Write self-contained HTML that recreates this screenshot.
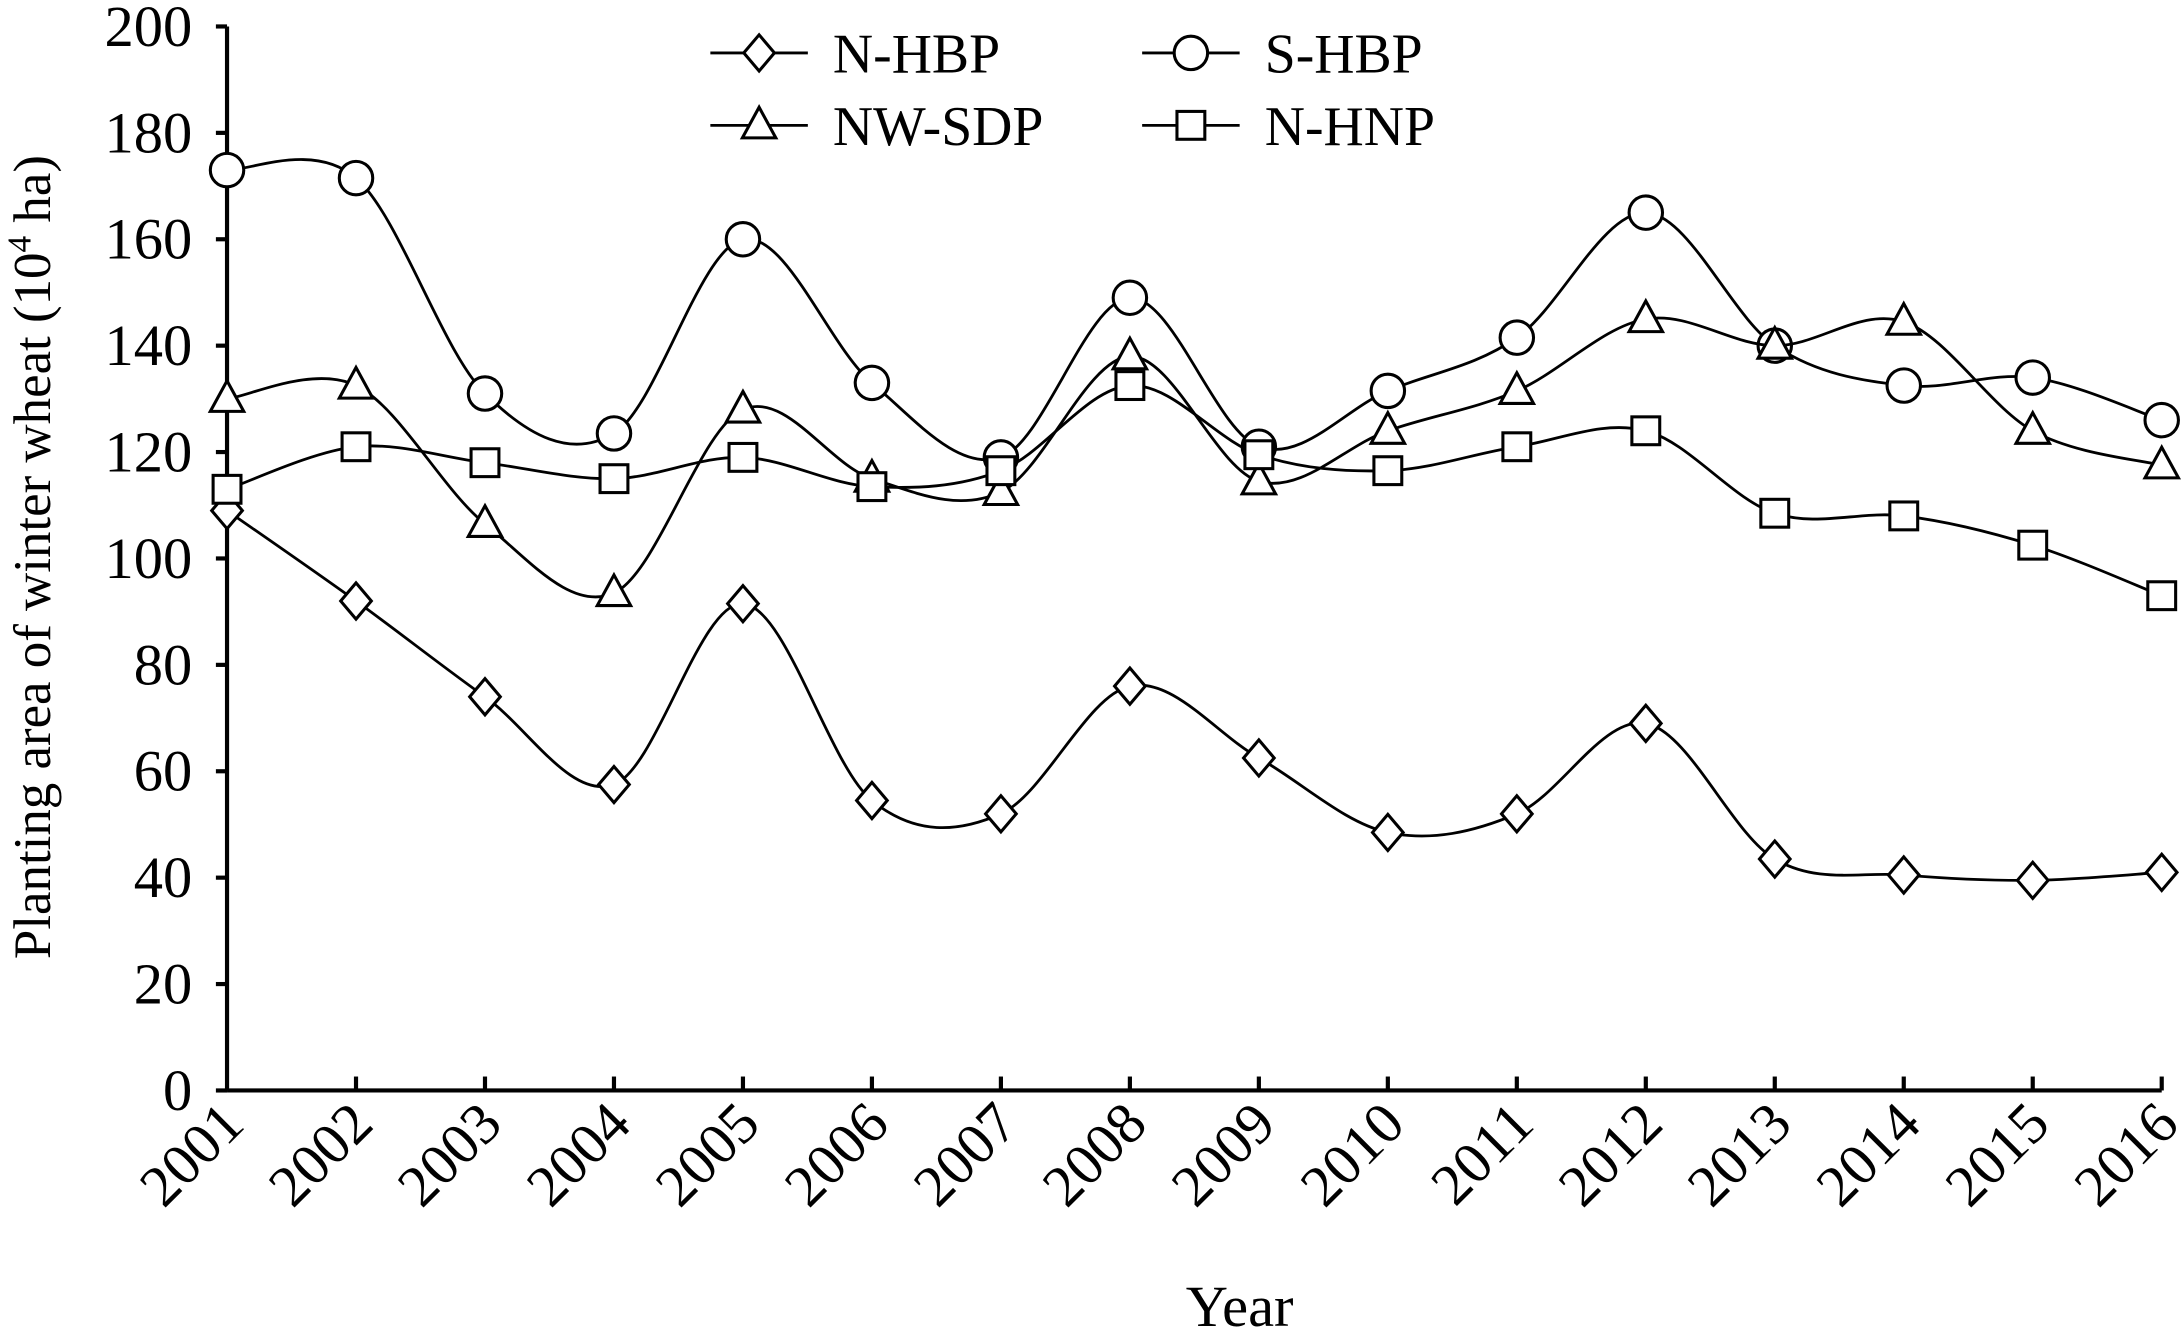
<!DOCTYPE html>
<html><head><meta charset="utf-8"><style>
html,body{margin:0;padding:0;background:#fff;}
svg{display:block;font-family:"Liberation Serif",serif;}
</style></head><body>
<svg id="chart" width="2184" height="1330" viewBox="0 0 1568 955" preserveAspectRatio="none" xmlns="http://www.w3.org/2000/svg">
<g id="axes"></g>
<g id="series"></g>
<g id="legend"></g>
<text x="890" y="952" font-size="42" text-anchor="middle">Year</text>
<text transform="translate(36,400) rotate(-90)" font-size="38" text-anchor="middle">Planting area of winter wheat (10<tspan font-size="24" dy="-14">4</tspan><tspan dy="14"> ha)</tspan></text>
</svg>
<script>
const years = ["2001","2002","2003","2004","2005","2006","2007","2008","2009","2010","2011","2012","2013","2014","2015","2016"];
const yTicks = [0,20,40,60,80,100,120,140,160,180,200];
const nHBP = [109,92,74,57.5,91.5,54.5,52,76,62.5,48.5,52,69,43.5,40.5,39.5,41];
const sHBP = [173,171.5,131,123.5,160,133,119,149,121,131.5,141.5,165,140,132.5,134,126];
const nwSDP = [130,132.5,106.5,93.5,128,115,112.5,138,114.5,124,131.5,145,140,144.5,124,117.5];
const nHNP = [113,121,118,115,119,113.5,116.5,132.5,119.5,116.5,121,124,108.5,108,102.5,93];

const NS="http://www.w3.org/2000/svg";
const X0=163,X1=1552,Y0=783,Y1=19;
const xs=i=>X0+(X1-X0)*i/(years.length-1);
const ys=v=>Y0-(Y0-Y1)*v/200;
function mk(t,a,p){const e=document.createElementNS(NS,t);for(const k in a)e.setAttribute(k,a[k]);p.appendChild(e);return e;}
const axes=document.getElementById('axes');
let e=mk('line',{x1:X0,y1:Y0,x2:X1,y2:Y0,stroke:'#000','stroke-width':3},axes);


e=mk('line',{x1:X0,y1:Y0,x2:X0,y2:Y1,stroke:'#000','stroke-width':3},axes);


yTicks.forEach(v=>{
  let t=mk('line',{x1:X0-8,y1:ys(v),x2:X0,y2:ys(v),stroke:'#000','stroke-width':3},axes);
  
  
  let l=mk('text',{x:138,y:ys(v)+14,'font-size':42,'text-anchor':'end'},axes);l.textContent=v;
  
  
});
years.forEach((y,i)=>{
  if(i>0){let t=mk('line',{x1:xs(i),y1:Y0,x2:xs(i),y2:Y0-10,stroke:'#000','stroke-width':3},axes);
  
  }
  let l=mk('text',{x:0,y:0,'font-size':42,'text-anchor':'end',transform:`translate(${xs(i)+14},${Y0+26}) rotate(-45)`},axes);l.textContent=y;
  
  
});
function smooth(pts){
  let d=`M${pts[0][0]},${pts[0][1]}`;
  for(let i=0;i<pts.length-1;i++){
    const p0=pts[i-1]||pts[i],p1=pts[i],p2=pts[i+1],p3=pts[i+2]||p2;
    const c1=[p1[0]+(p2[0]-p0[0])/6,p1[1]+(p2[1]-p0[1])/6];
    const c2=[p2[0]-(p3[0]-p1[0])/6,p2[1]-(p3[1]-p1[1])/6];
    d+=` C${c1[0]},${c1[1]} ${c2[0]},${c2[1]} ${p2[0]},${p2[1]}`;
  }
  return d;
}
function marker(type,x,y,p){
  const st={fill:'#fff',stroke:'#000','stroke-width':2.2};
  let m;
  if(type==='diamond')m=mk('polygon',Object.assign({points:`${x},${y-13} ${x+11},${y} ${x},${y+13} ${x-11},${y}`},st),p);
  else if(type==='circle')m=mk('circle',Object.assign({cx:x,cy:y,r:12},st),p);
  else if(type==='triangle')m=mk('polygon',Object.assign({points:`${x},${y-13} ${x+12},${y+9} ${x-12},${y+9}`},st),p);
  else m=mk('rect',Object.assign({x:x-10,y:y-10,width:20,height:20},st),p);
  return m;
}
const seriesG=document.getElementById('series');
const defs=[["n-hbp",nHBP,'diamond','N-HBP'],["s-hbp",sHBP,'circle','S-HBP'],["nw-sdp",nwSDP,'triangle','NW-SDP'],["n-hnp",nHNP,'square','N-HNP']];
defs.forEach(([id,vals,type])=>{
  const g=mk('g',{},seriesG);
  
  
  const pts=vals.map((v,i)=>[xs(i),ys(v)]);
  const p=mk('path',{d:smooth(pts),fill:'none',stroke:'#000','stroke-width':2},g);
  
  
  pts.forEach(q=>{const m=marker(type,q[0],q[1],g);
    
    });
});
const lg=document.getElementById('legend');
const lpos=[[510,38],[820,38],[510,90],[820,90]];
defs.forEach(([id,,type,label],k)=>{
  const [x,y]=lpos[k];
  const g=mk('g',{},lg);
  
  
  mk('line',{x1:x,y1:y,x2:x+70,y2:y,stroke:'#000','stroke-width':2},g);
  marker(type,x+35,y,g);
  const t=mk('text',{x:x+88,y:y+14,'font-size':40},g);t.textContent=label;
});
</script>
</body></html>
